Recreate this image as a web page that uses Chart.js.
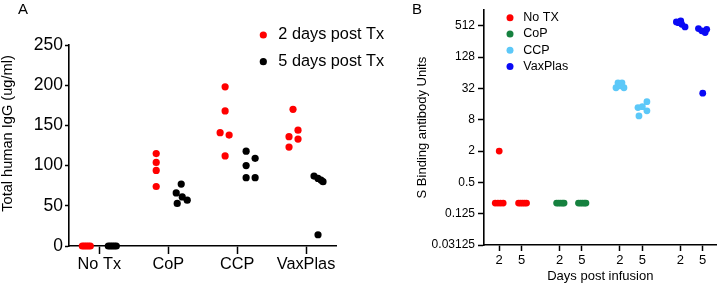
<!DOCTYPE html>
<html><head><meta charset="utf-8">
<script src="https://cdn.jsdelivr.net/npm/chart.js@4.4.1/dist/chart.umd.min.js"></script>
<style>
html,body{margin:0;padding:0;background:#fff;width:720px;height:284px;overflow:hidden;}
#wa{position:absolute;left:0;top:0;width:400px;height:284px;}
#wb{position:absolute;left:400px;top:0;width:320px;height:284px;}
.lab{position:absolute;font-family:'Liberation Sans',Arial,sans-serif;font-size:15px;color:#000;line-height:15px;}
</style></head><body>
<div id="wa"><canvas id="ca" width="400" height="284"></canvas></div>
<div id="wb"><canvas id="cb" width="320" height="284"></canvas></div>
<div class="lab" style="left:18px;top:1px">A</div>
<div class="lab" style="left:412px;top:1px">B</div>
<script>
// ---------------- Panel A data ----------------
const categoriesA = ['No Tx', 'CoP', 'CCP', 'VaxPlas'];
const seriesA = ['2 days post Tx', '5 days post Tx'];
const day2A = [[0, 0, 0, 0, 0], [115, 104, 94, 74], [198, 168, 141, 138, 112], [170, 144, 136, 133, 123]];
const day5A = [[0, 0, 0, 0, 0], [77, 66, 61, 57, 53], [118, 109, 100, 85, 85], [87, 84, 82, 80, 14]];
const yTicksA = [0, 50, 100, 150, 200, 250];
const yTitleA = 'Total human IgG (ug/ml)';
// horizontal scatter of each dot within its group (pixels)
const jitter2A = [[-17, -15, -13, -11, -9], [-12, -12, -12, -12], [-12, -12, -17, -8, -12], [-13, -8, -17, -8, -17]];
const jitter5A = [[9, 11, 13, 15, 17], [13, 8, 14, 19, 9], [9, 18, 9, 9, 18], [8, 12, 15, 17, 12]];

// ---------------- Panel B data ----------------
const groupsB = ['No TX', 'CoP', 'CCP', 'VaxPlas'];
const daysB = ['2', '5'];
const noTxB = [[2, 0.2, 0.2, 0.2, 0.2], [0.2, 0.2, 0.2, 0.2, 0.2]];
const copB = [[0.2, 0.2, 0.2, 0.2, 0.2], [0.2, 0.2, 0.2, 0.2, 0.2]];
const ccpB = [[33, 41, 36, 41, 33], [17.8, 14.3, 13.7, 11.9, 9.5]];
const vaxB = [[608, 635, 548, 488, 590], [454, 410, 381, 440, 26]];
const yTicksB = [0.03125, 0.125, 0.5, 2, 8, 32, 128, 512];
const yTickLabelsB = ['0.03125', '0.125', '0.5', '2', '8', '32', '128', '512'];
// horizontal scatter (pixels)
const jitterNoTxB = [[0, -4, -1.3, 1.3, 4], [-3, -1, 1, 3, 5]];
const jitterCopB = [[-3, -1, 1, 3, 4.5], [-3.5, -1.5, 0.5, 2.5, 4]];
const jitterCcpB = [[-4, -2, 0, 2, 4], [4.6, 0, -4.4, 4.6, -3.4]];
const jitterVaxB = [[-4, 0.4, 1.4, 4.7, -2], [-4.3, -1, 2.4, 4, 0]];

// ---------------- styling ----------------
const FONT = "'Liberation Sans', Arial, Helvetica, sans-serif";
Chart.defaults.font.family = FONT;
Chart.defaults.color = '#000';
const colorsA = ['#ff0000', '#000000'];
const colorsB = ['#ff0000', '#16813f', '#5cc8f8', '#0a0af5'];

const dotLegend = {
  id: 'dotLegend',
  afterDraw(chart, args, o) {
    const ctx = chart.ctx;
    ctx.save();
    ctx.font = o.size + 'px ' + FONT;
    ctx.textBaseline = 'middle';
    ctx.textAlign = 'left';
    o.items.forEach((it, i) => {
      const y = o.y + i * o.dy;
      ctx.fillStyle = it.color;
      ctx.beginPath(); ctx.arc(o.x, y, o.r, 0, Math.PI * 2); ctx.fill();
      ctx.fillStyle = '#000';
      ctx.fillText(it.label, o.x + o.gap, y);
    });
    ctx.restore();
  }
};
// rotated axis title, placed relative to the chart area
const sideTitle = {
  id: 'sideTitle',
  afterDraw(chart, args, o) {
    if (!o || !o.text) return;
    const ctx = chart.ctx, ca = chart.chartArea;
    ctx.save();
    ctx.translate(o.x, (ca.top + ca.bottom) / 2 + o.dy);
    ctx.rotate(-Math.PI / 2);
    ctx.font = o.size + 'px ' + FONT;
    ctx.fillStyle = '#000';
    ctx.textAlign = 'center';
    ctx.textBaseline = 'middle';
    ctx.fillText(o.text, 0, 0);
    ctx.restore();
  }
};

// ---------------- Panel A chart ----------------
const A_PX = 68.9; // px per category unit
function ptsA(vals, jit) {
  const out = [];
  vals.forEach((arr, i) => arr.forEach((v, j) => out.push({ x: i + jit[i][j] / A_PX, y: v })));
  return out;
}
new Chart(document.getElementById('ca'), {
  type: 'scatter',
  data: {
    datasets: [
      { label: seriesA[0], data: ptsA(day2A, jitter2A), backgroundColor: colorsA[0], borderWidth: 0, pointRadius: 3.6, pointHoverRadius: 3.6, clip: false },
      { label: seriesA[1], data: ptsA(day5A, jitter5A), backgroundColor: colorsA[1], borderWidth: 0, pointRadius: 3.6, pointHoverRadius: 3.6, clip: false }
    ]
  },
  options: {
    responsive: false, animation: false, events: [],
    layout: { padding: { left: 0, right: 64, top: 45, bottom: 0 } },
    plugins: {
      legend: { display: false }, tooltip: { enabled: false },
      dotLegend: { x: 263.3, y: 35, dy: 26.7, r: 3.6, gap: 15, size: 16.3,
        items: seriesA.map((s, i) => ({ label: s, color: colorsA[i] })) },
      sideTitle: { text: yTitleA, x: 8, dy: -12, size: 14.6 }
    },
    scales: {
      x: {
        type: 'linear', min: -0.44, max: 3.435,
        afterBuildTicks: (s) => { s.ticks = categoriesA.map((c, i) => ({ value: i })); },
        afterFit: (s) => { s.height = 38; },
        ticks: { callback: (v) => categoriesA[v], font: { size: 16.3 }, padding: 1, maxRotation: 0, autoSkip: false },
        grid: { drawOnChartArea: false, tickLength: 8, tickColor: '#000', tickWidth: 1.5 },
        border: { color: '#000', width: 1.6 }
      },
      y: {
        type: 'linear', min: 0, max: 250,
        afterBuildTicks: (s) => { s.ticks = yTicksA.map(v => ({ value: v })); },
        afterFit: (s) => { s.width = 69; },
        ticks: { font: { size: 17.5 }, padding: 2 },
        grid: { drawOnChartArea: false, tickLength: 4, tickColor: '#000', tickWidth: 1.5 },
        border: { color: '#000', width: 1.6 }
      }
    }
  },
  plugins: [dotLegend, sideTitle]
});

// ---------------- Panel B chart ----------------
const B_PX = 22.5;     // px per unit of x
const B_GROUP = 2.7;   // group spacing in x units
function ptsB(g, vals, jit) {
  const out = [];
  vals.forEach((arr, d) => arr.forEach((v, j) => out.push({ x: g * B_GROUP + d + jit[d][j] / B_PX, y: v })));
  return out;
}
const valsB = [noTxB, copB, ccpB, vaxB];
const jitB = [jitterNoTxB, jitterCopB, jitterCcpB, jitterVaxB];
const tickPosB = [];
groupsB.forEach((g, gi) => daysB.forEach((d, di) => tickPosB.push({ value: gi * B_GROUP + di, label: d })));

new Chart(document.getElementById('cb'), {
  type: 'scatter',
  data: {
    datasets: groupsB.map((g, gi) => ({
      label: g, data: ptsB(gi, valsB[gi], jitB[gi]), backgroundColor: colorsB[gi],
      borderWidth: 0, pointRadius: 3.4, pointHoverRadius: 3.4, clip: false
    }))
  },
  options: {
    responsive: false, animation: false, events: [],
    layout: { padding: { left: 0, right: 2, top: 8, bottom: 0 } },
    plugins: {
      legend: { display: false }, tooltip: { enabled: false },
      dotLegend: { x: 110, y: 17.7, dy: 16.3, r: 3.5, gap: 13.3, size: 12.5,
        items: groupsB.map((g, i) => ({ label: g, color: colorsB[i] })) }
    },
    scales: {
      x: {
        type: 'linear', min: -0.68, max: 9.72,
        afterBuildTicks: (s) => { s.ticks = tickPosB.map(t => ({ value: t.value })); },
        afterFit: (s) => { s.height = 39; },
        ticks: { callback: (v, i) => tickPosB[i].label, font: { size: 13 }, padding: 1.5, maxRotation: 0, autoSkip: false },
        grid: { drawOnChartArea: false, tickLength: 6, tickColor: '#000', tickWidth: 1.5 },
        border: { color: '#000', width: 1.6 },
        title: { display: true, text: 'Days post infusion', font: { size: 13 }, padding: { top: 0, bottom: 0 } }
      },
      y: {
        type: 'logarithmic', min: 0.03125, max: 1024,
        afterBuildTicks: (s) => { s.ticks = yTicksB.map(v => ({ value: v })); },
        afterFit: (s) => { s.width = 84; },
        ticks: { callback: (v, i) => yTickLabelsB[i], font: { size: 12 }, padding: 3 },
        grid: { drawOnChartArea: false, tickLength: 6, tickColor: '#000', tickWidth: 1.5 },
        border: { color: '#000', width: 1.6 },
        title: { display: true, text: 'S Binding antibody Units', font: { size: 13 }, padding: { top: 15, bottom: 0 } }
      }
    }
  },
  plugins: [dotLegend]
});
</script>
</body></html>
